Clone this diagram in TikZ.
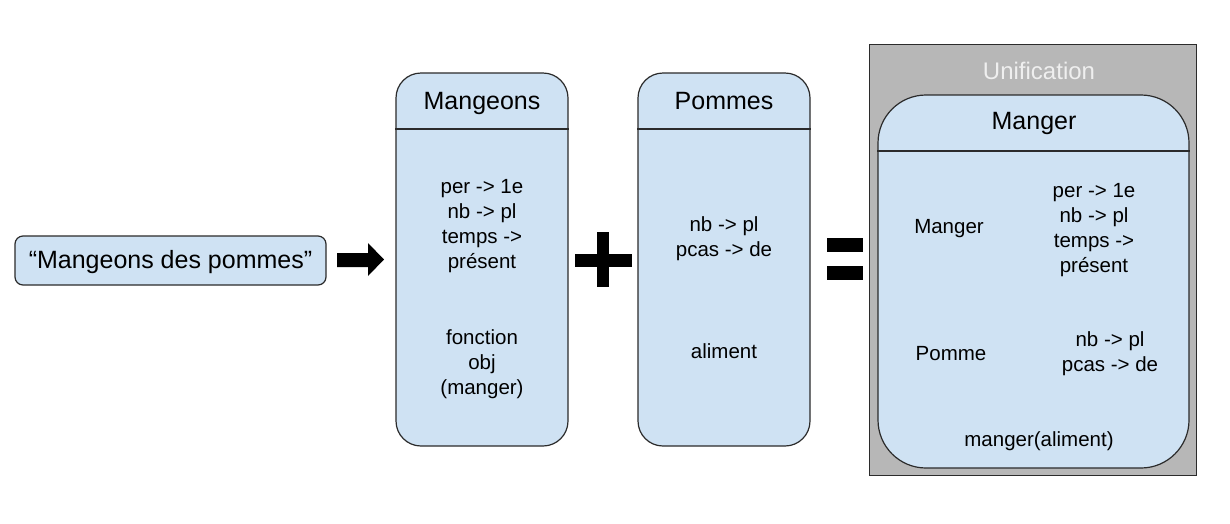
\documentclass[tikz,border=0pt]{standalone}
\usepackage{fontspec}
\setmainfont{Liberation Sans}
\definecolor{boxblue}{HTML}{CFE2F3}
\definecolor{unigray}{HTML}{B7B7B7}
\definecolor{edgecol}{HTML}{2B2B2B}
\definecolor{unitext}{HTML}{EFEFEF}
\begin{document}
\begin{tikzpicture}[x=1pt,y=-1pt,
  bluebox/.style={draw=edgecol, fill=boxblue, line width=1.2pt, rectangle, inner sep=0pt},
  bigtxt/.style={font=\fontsize{25}{29}\selectfont, align=center, inner sep=0pt},
  smalltxt/.style={font=\fontsize{20.5}{25}\selectfont, align=center, inner sep=0pt},
  sym/.style={fill=black, draw=none},
  divider/.style={draw=edgecol, line width=1.1pt}]
\useasboundingbox (0,0) rectangle (1230,523);
\fill[white] (0,0) rectangle (1230,523);

% sentence
\node[bluebox, rounded corners=8pt, minimum width=311pt, minimum height=49pt] (sent) at (170.5,260.5) {};
\node[bigtxt] (senttxt) at (170.5,262) {“Mangeons des pommes”};

% arrow
\fill[sym] (337,253) -- (368,253) -- (368,243) -- (384,259.5) -- (368,276) -- (368,267) -- (337,267) -- cycle;

% Mangeons
\node[bluebox, rounded corners=25pt, minimum width=172pt, minimum height=373pt] (mang) at (482,259.5) {};
\draw[divider] (mang.west |- 0,129) -- (mang.east |- 0,129);
\node[bigtxt] (mangt) at (482,103) {Mangeons};
\node[smalltxt] (mang1) at (482,226) {per -> 1e\\nb -> pl\\temps ->\\présent};
\node[smalltxt] (mang2) at (482,364) {fonction\\obj\\(manger)};

% plus
\fill[sym] (597,232) rectangle (609,287);
\fill[sym] (575,254) rectangle (632,267);

% Pommes
\node[bluebox, rounded corners=25pt, minimum width=172pt, minimum height=373pt] (pom) at (724,259.5) {};
\draw[divider] (pom.west |- 0,129) -- (pom.east |- 0,129);
\node[bigtxt] (pomt) at (724,101) {Pommes};
\node[smalltxt] (pom1) at (724,238.5) {nb -> pl\\pcas -> de};
\node[smalltxt] (pom2) at (724,351) {aliment};

% equals
\fill[sym] (827,238) rectangle (863,252);
\fill[sym] (827,266) rectangle (863,280);

% Unification
\node[draw=edgecol, fill=unigray, line width=1pt, rectangle, minimum width=327pt, minimum height=431pt, inner sep=0pt] (uni) at (1032.5,259.5) {};
\node[bigtxt, text=unitext, font=\fontsize{24}{28}\selectfont] (unit) at (1039,71) {Unification};

% Manger
\node[bluebox, rounded corners=48pt, minimum width=311pt, minimum height=373pt] (mgr) at (1033.5,281.5) {};
\draw[divider] (mgr.west |- 0,151) -- (mgr.east |- 0,151);
\node[bigtxt] (mgrt) at (1034,123) {Manger};
\node[smalltxt] (mgrl1) at (949,229) {Manger};
\node[smalltxt] (mgrr1) at (1094,230) {per -> 1e\\nb -> pl\\temps ->\\présent};
\node[smalltxt] (mgrl2) at (951,354) {Pomme};
\node[smalltxt] (mgrr2) at (1110,354) {nb -> pl\\pcas -> de};
\node[smalltxt] (mgrb) at (1039,441) {manger(aliment)};
\end{tikzpicture}
\end{document}
